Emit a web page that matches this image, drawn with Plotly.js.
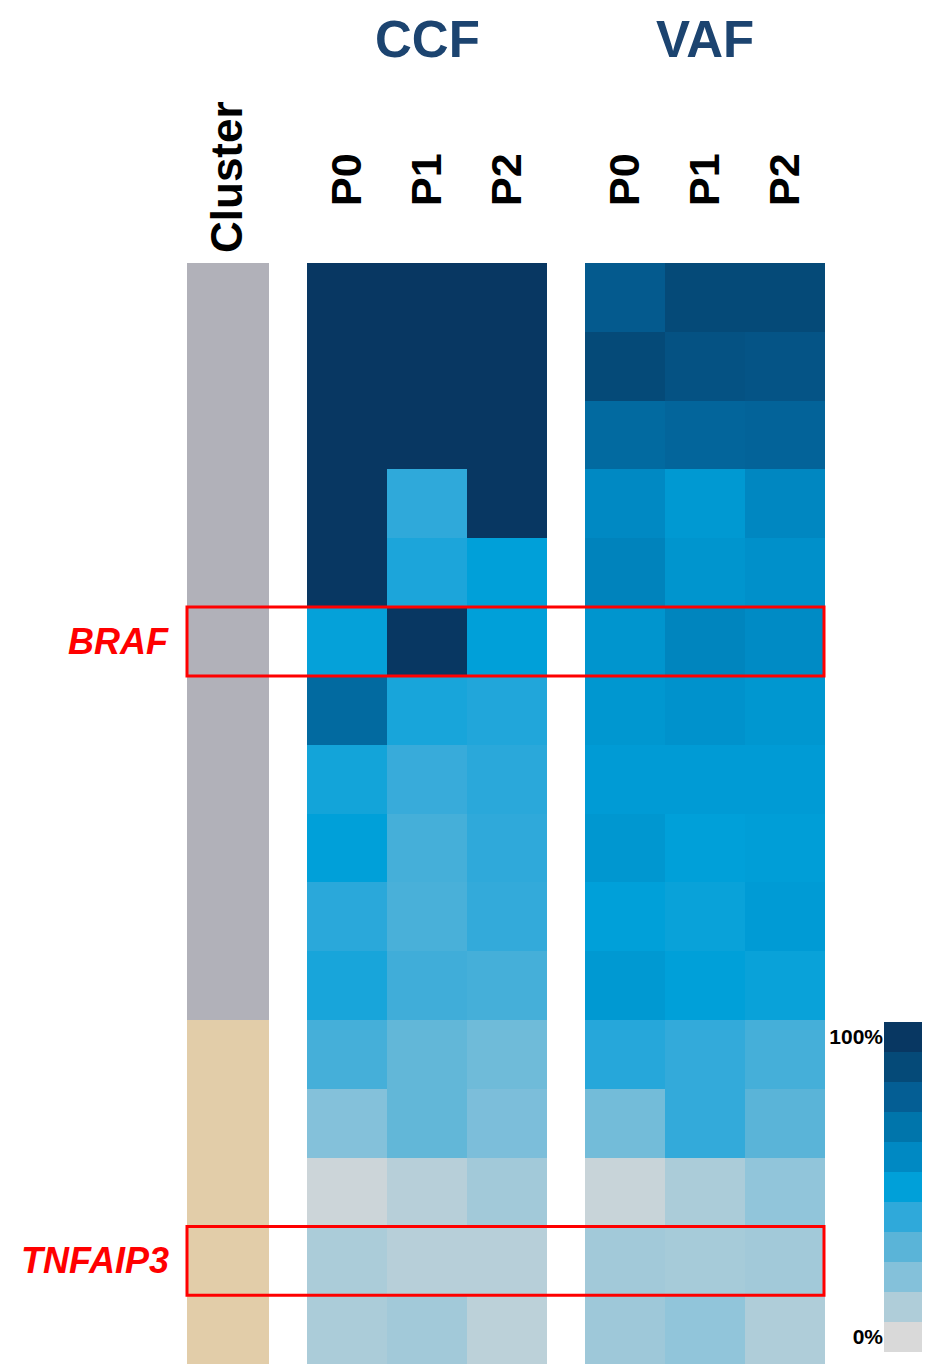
<!DOCTYPE html>
<html>
<head>
<meta charset="utf-8">
<script src="https://cdn.plot.ly/plotly-3.0.1.min.js"></script>
<style>html,body{margin:0;padding:0;background:#fff;}#chart{width:927px;height:1371px;}</style>
</head>
<body>
<div id="chart"></div>
<script>
// ---------- data ----------
const samples = ['P0', 'P1', 'P2'];
const rows = [0, 1, 2, 3, 4, 5, 6, 7, 8, 9, 10, 11, 12, 13, 14, 15];
// cluster membership of each row (1 = grey cluster, 2 = tan cluster)
const cluster = [1, 1, 1, 1, 1, 1, 1, 1, 1, 1, 1, 2, 2, 2, 2, 2];
// cancer cell fraction (%)
const ccfP0 = [100, 100, 100, 100, 100, 49, 75, 46, 50, 41, 45, 35, 20, 3, 11, 11];
const ccfP1 = [100, 100, 100, 40, 44, 100, 45, 38, 35, 34, 36, 28, 28, 8, 8, 13];
const ccfP2 = [100, 100, 100, 100, 50, 50, 43, 41, 40, 39, 35, 25, 22, 13, 8, 7];
// variant allele frequency (scaled %)
const vafP0 = [82, 90, 75, 60, 63, 55, 54, 52, 54, 50, 53, 42, 24, 4, 13, 14];
const vafP1 = [90, 86, 77, 53, 55, 62, 56, 52, 50, 48, 50, 39, 39, 11, 12, 17];
const vafP2 = [90, 85, 78, 61, 57, 59, 54, 52, 51, 52, 48, 35, 30, 17, 13, 10];
// highlighted genes
const highlightGenes = ['BRAF', 'TNFAIP3'];
const highlightRows = [5, 14];
// legend steps
const legendSteps = [0, 10, 20, 30, 40, 50, 60, 70, 80, 90, 100];
const legendLabels = ['0%', '100%'];

// ---------- styles ----------
const stepColors = ['#d9d9d9', '#afcdd9', '#84c1da', '#5ab4d8', '#2fa9da', '#00a0d9',
                    '#0089c3', '#0075ab', '#045e94', '#054a78', '#083762'];
const blueScale = stepColors.map((c, i) => [i / (stepColors.length - 1), c]);
const clusterScale = [[0, '#b1b1b9'], [0.5, '#b1b1b9'], [0.5, '#e2cda9'], [1, '#e2cda9']];
const FONT = '"Liberation Sans", Arial, Helvetica, sans-serif';
const W = 927, H = 1371;
const px = v => v / W;
const py = v => (H - v) / H;

const yDom = [py(1364), py(263)];
const xClu = [px(187), px(269)];
const xCcf = [px(307), px(547)];
const xVaf = [px(585), px(825)];
const xLeg = [px(884), px(922)];
const yLeg = [py(1352), py(1022)];

const ccfZ = rows.map(r => [ccfP0[r], ccfP1[r], ccfP2[r]]);
const vafZ = rows.map(r => [vafP0[r], vafP1[r], vafP2[r]]);
const cluZ = rows.map(r => [cluster[r]]);

const traces = [
  {type: 'heatmap', x: ['Cluster'], y: rows, z: cluZ, xaxis: 'x', yaxis: 'y',
   colorscale: clusterScale, zmin: 1, zmax: 2, showscale: false, hoverinfo: 'skip'},
  {type: 'heatmap', x: samples, y: rows, z: ccfZ, xaxis: 'x2', yaxis: 'y',
   colorscale: blueScale, zmin: 0, zmax: 100, showscale: false},
  {type: 'heatmap', x: samples, y: rows, z: vafZ, xaxis: 'x3', yaxis: 'y',
   colorscale: blueScale, zmin: 0, zmax: 100, showscale: false},
  {type: 'heatmap', x: [0], y: legendSteps, z: legendSteps.map(v => [v]), xaxis: 'x4', yaxis: 'y2',
   colorscale: blueScale, zmin: 0, zmax: 100, showscale: false, hoverinfo: 'skip'}
];

const pTickFont = {family: FONT, size: 40, color: '#000', weight: 'bold'};
const catAxis = (dom, n, standoff, size) => ({
  domain: dom, anchor: 'y', side: 'top', type: 'category', range: [-0.5, n - 0.5],
  showgrid: false, zeroline: false, showline: false, ticks: '', tickangle: -90,
  ticklabelstandoff: standoff, tickfont: Object.assign({}, pTickFont, {size: size}), fixedrange: true
});

const shapes = highlightRows.map(r => ({
  type: 'rect', xref: 'paper', yref: 'y', x0: px(187), x1: px(824), y0: r - 0.5, y1: r + 0.5,
  line: {color: '#ff0000', width: 3}, fillcolor: 'rgba(0,0,0,0)', layer: 'above'
}));

const annotations = [
  {text: 'CCF', xref: 'x2 domain', yref: 'paper', x: 0.5, y: py(39), showarrow: false,
   xanchor: 'center', yanchor: 'middle', font: {family: FONT, size: 51, color: '#1c4470', weight: 'bold'}},
  {text: 'VAF', xref: 'x3 domain', yref: 'paper', x: 0.5, y: py(39), showarrow: false,
   xanchor: 'center', yanchor: 'middle', font: {family: FONT, size: 51, color: '#1c4470', weight: 'bold'}}
].concat(highlightGenes.map((g, i) => ({
  text: g, xref: 'paper', yref: 'y', x: px(171), y: highlightRows[i], showarrow: false,
  xanchor: 'right', yanchor: 'middle',
  font: {family: FONT, size: 36, color: '#ff0000', weight: 'bold', style: 'italic'}
})));

const layout = {
  width: W, height: H, margin: {l: 0, r: 0, t: 0, b: 0}, paper_bgcolor: '#fff', plot_bgcolor: '#fff',
  showlegend: false,
  xaxis: catAxis(xClu, 1, 9, 44),
  xaxis2: catAxis(xCcf, 3, 56, 43),
  xaxis3: catAxis(xVaf, 3, 56, 43),
  xaxis4: {domain: xLeg, anchor: 'y2', range: [-0.5, 0.5], showticklabels: false, showgrid: false,
           zeroline: false, ticks: '', fixedrange: true},
  yaxis: {domain: yDom, anchor: 'x', range: [15.5, -0.5], showticklabels: false, showgrid: false,
          zeroline: false, ticks: '', fixedrange: true},
  yaxis2: {domain: yLeg, anchor: 'x4', range: [-5, 105], side: 'left', showgrid: false, zeroline: false,
           ticks: '', tickvals: [legendSteps[0], legendSteps[legendSteps.length - 1]], ticktext: legendLabels,
           tickfont: {family: FONT, size: 21, color: '#000', weight: 'bold'}, fixedrange: true},
  shapes: shapes,
  annotations: annotations
};

Plotly.newPlot('chart', traces, layout, {displayModeBar: false, staticPlot: true});
</script>
</body>
</html>
